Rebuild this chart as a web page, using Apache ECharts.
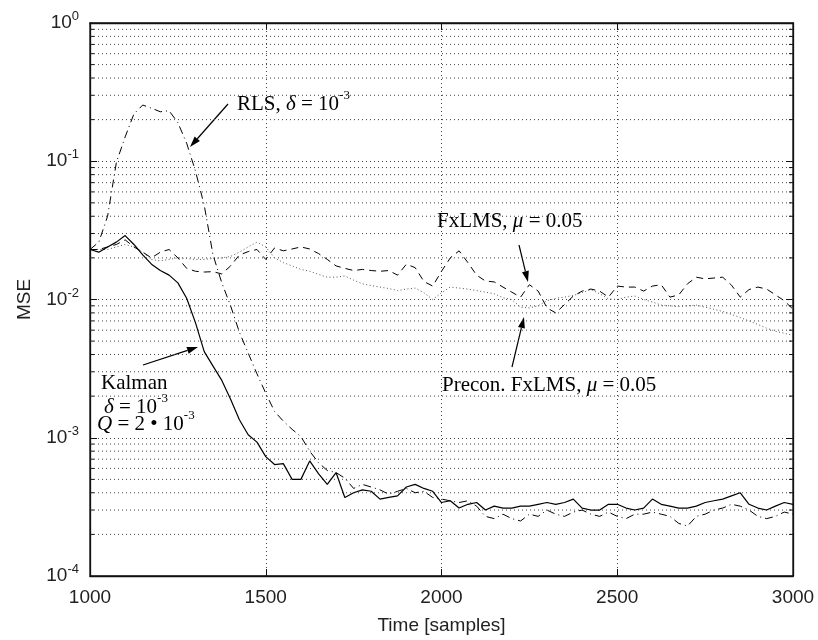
<!DOCTYPE html>
<html>
<head>
<meta charset="utf-8">
<script src="https://cdn.jsdelivr.net/npm/echarts@6.0.0/dist/echarts.min.js"></script>
<style>
  html, body { margin: 0; padding: 0; background: #fff; }
  #chart { width: 818px; height: 640px; }
</style>
</head>
<body>
<div id="chart"></div>
<script>
// time axis (samples)
const time = [
  1000, 1025, 1050, 1075, 1100, 1125, 1150, 1175, 1200, 1225, 1250, 1275, 1300, 1325, 1350, 1375,
  1400, 1425, 1450, 1475, 1500, 1525, 1550, 1575, 1600, 1625, 1650, 1675, 1700, 1725, 1750, 1775,
  1800, 1825, 1850, 1875, 1900, 1925, 1950, 1975, 2000, 2025, 2050, 2075, 2100, 2125, 2150, 2175,
  2200, 2225, 2250, 2275, 2300, 2325, 2350, 2375, 2400, 2425, 2450, 2475, 2500, 2525, 2550, 2575,
  2600, 2625, 2650, 2675, 2700, 2725, 2750, 2775, 2800, 2825, 2850, 2875, 2900, 2925, 2950, 2975,
  3000
];

// MSE curves
const kalman = [
  0.023, 0.022, 0.024, 0.026, 0.029, 0.025, 0.021, 0.018, 0.0162, 0.0150, 0.0132, 0.0102, 0.0068, 0.0042, 0.0033, 0.0026,
  0.0019, 0.00135, 0.00105, 0.00093, 0.00073, 0.00064, 0.00065, 0.00050, 0.00050, 0.00068, 0.00055, 0.00046, 0.00056, 0.00037, 0.00040, 0.00042,
  0.00041, 0.00036, 0.00037, 0.00038, 0.00044, 0.00046, 0.00043, 0.00041, 0.00034, 0.00035, 0.00031, 0.00033, 0.00034, 0.00030, 0.00032, 0.00031,
  0.00031, 0.00032, 0.00032, 0.00033, 0.00034, 0.00033, 0.00034, 0.00036, 0.00031, 0.00030, 0.00030, 0.00033, 0.00033, 0.00031, 0.00030, 0.00031,
  0.00036, 0.00033, 0.00032, 0.00031, 0.00031, 0.00032, 0.00034, 0.00035, 0.00036, 0.00038, 0.00040, 0.00033, 0.00031, 0.00030, 0.00032, 0.00034,
  0.00033
];
const rls = [
  0.023, 0.026, 0.040, 0.098, 0.150, 0.220, 0.255, 0.242, 0.228, 0.232, 0.190, 0.135, 0.085, 0.048, 0.021, 0.0132,
  0.0090, 0.0058, 0.0041, 0.0029, 0.0021, 0.00155, 0.00132, 0.00115, 0.00102, 0.00080, 0.00066, 0.00058, 0.00056, 0.00051, 0.00043, 0.00046,
  0.00044, 0.00042, 0.00039, 0.00041, 0.00043, 0.00040, 0.00041, 0.00037, 0.00036, 0.00035, 0.00034, 0.00035, 0.00032, 0.00027, 0.00026, 0.00028,
  0.00026, 0.00025, 0.00028, 0.00027, 0.00030, 0.00028, 0.00027, 0.00029, 0.00030, 0.00028, 0.00027, 0.00029, 0.00027, 0.00026, 0.00028, 0.00028,
  0.00029, 0.00028, 0.00027, 0.00024, 0.00023, 0.00027, 0.00028, 0.00030, 0.00031, 0.00033, 0.00032, 0.00030, 0.00027, 0.00026, 0.00027, 0.00029,
  0.00028
];
const fxlms = [
  0.023, 0.023, 0.024, 0.025, 0.027, 0.024, 0.022, 0.020, 0.022, 0.023, 0.020, 0.0168, 0.0160, 0.0158, 0.0159, 0.0153,
  0.0175, 0.0210, 0.0222, 0.0230, 0.0195, 0.0236, 0.0225, 0.0232, 0.0240, 0.0232, 0.0215, 0.0195, 0.0175, 0.0168, 0.0162, 0.0165,
  0.0162, 0.0160, 0.0162, 0.0150, 0.0180, 0.0170, 0.0135, 0.0125, 0.0160, 0.0200, 0.0225, 0.0185, 0.0150, 0.0136, 0.0134, 0.0123,
  0.0113, 0.0104, 0.0128, 0.0115, 0.0087, 0.0080, 0.0092, 0.0106, 0.0115, 0.0119, 0.0115, 0.0104, 0.0125, 0.0123, 0.0123, 0.0115,
  0.0125, 0.0128, 0.0104, 0.0108, 0.0130, 0.0145, 0.0141, 0.0143, 0.0145, 0.0127, 0.0104, 0.0118, 0.0123, 0.0119, 0.0108, 0.0098,
  0.0085
];
const precon = [
  0.023, 0.023, 0.023, 0.024, 0.025, 0.024, 0.022, 0.0195, 0.0190, 0.0195, 0.0200, 0.0198, 0.0195, 0.0195, 0.0198, 0.0200,
  0.0205, 0.0220, 0.0240, 0.0260, 0.0240, 0.0200, 0.0185, 0.0175, 0.0165, 0.0160, 0.0152, 0.0145, 0.0145, 0.0148, 0.0138, 0.0130,
  0.0126, 0.0123, 0.0120, 0.0116, 0.0119, 0.0121, 0.0112, 0.0100, 0.0112, 0.0123, 0.0121, 0.0119, 0.0116, 0.0113, 0.0110, 0.0103,
  0.0100, 0.0088, 0.0087, 0.0090, 0.0098, 0.0102, 0.0104, 0.0107, 0.0112, 0.0118, 0.0110, 0.0101, 0.0100, 0.0104, 0.0106, 0.0100,
  0.0096, 0.0091, 0.0090, 0.0089, 0.0090, 0.0091, 0.0088, 0.0085, 0.0082, 0.0078, 0.0074, 0.0070, 0.0066, 0.0062, 0.0059, 0.0057,
  0.0055
];

// axis ticks
const xTicks = [1000, 1500, 2000, 2500, 3000];
const decades = [1e-4, 1e-3, 1e-2, 1e-1];
const minorSteps = [2, 3, 4, 5, 6, 7, 8, 9];

const minorValues = [];
decades.forEach(d => minorSteps.forEach(m => minorValues.push([xTicks[0], d * m])));

const pairs = arr => time.map((t, i) => [t, arr[i]]);

const sansFont = "'Liberation Sans', Arial, sans-serif";
const serifFont = "'Liberation Serif', 'Times New Roman', serif";

const chart = echarts.init(document.getElementById('chart'));

function arrow(x1, y1, x2, y2) {
  const ang = Math.atan2(y2 - y1, x2 - x1);
  const L = 11, W = 3.5;
  const bx = x2 - L * Math.cos(ang), by = y2 - L * Math.sin(ang);
  const px = -Math.sin(ang) * W, py = Math.cos(ang) * W;
  return [
    { type: 'line', shape: { x1: x1, y1: y1, x2: bx, y2: by }, style: { stroke: '#000', lineWidth: 1.2 } },
    { type: 'polygon', shape: { points: [[x2, y2], [bx + px, by + py], [bx - px, by - py]] }, style: { fill: '#000' } }
  ];
}

const rich = {
  n: { fontSize: 21, fontFamily: serifFont, color: '#222', lineHeight: 30 },
  i: { fontSize: 21, fontFamily: serifFont, fontStyle: 'italic', color: '#222', lineHeight: 30 },
  s: { fontSize: 13, fontFamily: serifFont, color: '#222', lineHeight: 12, verticalAlign: 'top' }
};

function label(x, y, text) {
  return { type: 'text', x: x, y: y, z: 100, style: { text: text, rich: rich, verticalAlign: 'middle', align: 'left' } };
}

const graphics = [].concat(
  label(237, 104, '{n|RLS, }{i|δ}{n| = 10}{s|-3}'),
  arrow(228, 104, 190, 147),
  label(437, 221, '{n|FxLMS, }{i|μ}{n| = 0.05}'),
  arrow(519, 245, 528, 282),
  label(442, 385, '{n|Precon. FxLMS, }{i|μ}{n| = 0.05}'),
  arrow(512, 367, 524, 317),
  label(101, 383, '{n|Kalman}'),
  label(104, 407, '{i|δ}{n| = 10}{s|-3}'),
  label(97, 424, '{i|Q}{n| = 2 • 10}{s|-3}'),
  arrow(143, 365, 198, 347)
);

const dotted = { color: '#444', width: 1, type: [1, 3] };

const option = {
  animation: false,
  backgroundColor: '#fff',
  grid: { left: 90, right: 25, top: 23, bottom: 62, show: true, borderColor: '#111', borderWidth: 1.3 },
  xAxis: [
    {
      type: 'value', min: 1000, max: 3000, interval: 500,
      name: 'Time [samples]', nameLocation: 'middle', nameGap: 40,
      nameTextStyle: { fontFamily: sansFont, fontSize: 19, color: '#222' },
      axisLine: { show: true, lineStyle: { color: '#111', width: 1.3 } },
      axisTick: { show: true, inside: true, length: 7, lineStyle: { color: '#111' } },
      axisLabel: { fontFamily: sansFont, fontSize: 19, color: '#222', margin: 12, formatter: v => String(v) },
      splitLine: { show: true, lineStyle: dotted }
    },
    {
      type: 'value', min: 1000, max: 3000, interval: 500, position: 'top',
      axisLine: { show: true, lineStyle: { color: '#111', width: 1.3 } },
      axisTick: { show: true, inside: true, length: 7, lineStyle: { color: '#111' } },
      axisLabel: { show: false },
      splitLine: { show: false }
    }
  ],
  yAxis: [
    {
      type: 'log', logBase: 10, min: 1e-4, max: 1,
      name: 'MSE', nameLocation: 'middle', nameGap: 56, nameRotate: 90,
      nameTextStyle: { fontFamily: sansFont, fontSize: 19, color: '#222' },
      axisLine: { show: true, lineStyle: { color: '#111', width: 1.3 } },
      axisTick: { show: true, inside: true, length: 7, lineStyle: { color: '#111' } },
      axisLabel: {
        margin: 11,
        showMinLabel: true, showMaxLabel: true,
        formatter: v => '{b|10}{e|' + Math.round(Math.log10(v)) + '}',
        rich: {
          b: { fontFamily: sansFont, fontSize: 19, color: '#222', lineHeight: 26 },
          e: { fontFamily: sansFont, fontSize: 13, color: '#222', lineHeight: 12, verticalAlign: 'top' }
        }
      },
      splitLine: { show: true, lineStyle: dotted }
    },
    {
      type: 'log', logBase: 10, min: 1e-4, max: 1, position: 'right',
      axisLine: { show: true, lineStyle: { color: '#111', width: 1.3 } },
      axisTick: { show: true, inside: true, length: 7, lineStyle: { color: '#111' } },
      axisLabel: { show: false },
      splitLine: { show: false }
    }
  ],
  graphic: graphics,
  series: [
    {
      // minor log grid lines and minor ticks
      type: 'custom', xAxisIndex: 0, yAxisIndex: 0, z: 1, silent: true,
      data: minorValues,
      renderItem: (params, api) => {
        const v = api.value(1);
        const a = api.coord([1000, v]);
        const b = api.coord([3000, v]);
        return {
          type: 'group',
          children: [
            { type: 'line', shape: { x1: a[0], y1: a[1], x2: b[0], y2: b[1] }, style: { stroke: '#444', lineWidth: 1, lineDash: [1, 3] } },
            { type: 'line', shape: { x1: a[0], y1: a[1], x2: a[0] + 4, y2: a[1] }, style: { stroke: '#111', lineWidth: 1 } },
            { type: 'line', shape: { x1: b[0] - 4, y1: b[1], x2: b[0], y2: b[1] }, style: { stroke: '#111', lineWidth: 1 } }
          ]
        };
      }
    },
    {
      name: 'Precon. FxLMS', type: 'line', data: pairs(precon), showSymbol: false, z: 3,
      lineStyle: { color: '#555', width: 1, type: [1, 2.5] }
    },
    {
      name: 'FxLMS', type: 'line', data: pairs(fxlms), showSymbol: false, z: 4,
      lineStyle: { color: '#000', width: 1, type: [7, 5] }
    },
    {
      name: 'RLS', type: 'line', data: pairs(rls), showSymbol: false, z: 4,
      lineStyle: { color: '#000', width: 1, type: [8, 4, 1, 4] }
    },
    {
      name: 'Kalman', type: 'line', data: pairs(kalman), showSymbol: false, z: 5,
      lineStyle: { color: '#000', width: 1.2 }
    }
  ]
};

chart.setOption(option);
</script>
</body>
</html>
